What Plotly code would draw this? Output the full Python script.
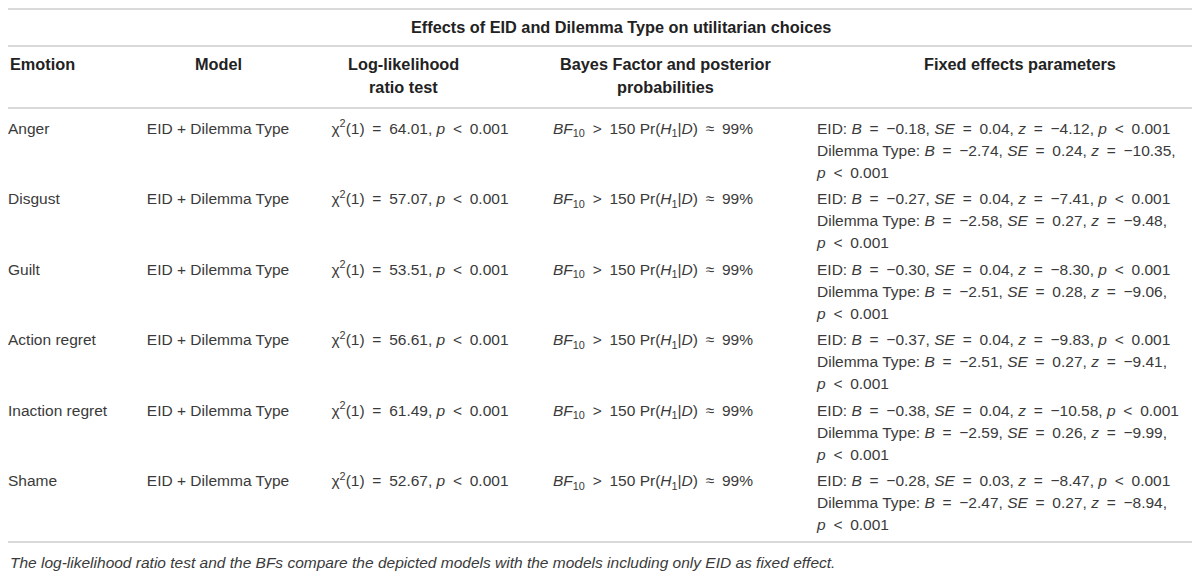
import plotly.graph_objs as go

# table data
emotions = ["Anger", "Disgust", "Guilt", "Action regret", "Inaction regret", "Shame"]
model_name = "EID + Dilemma Type"
chi2_df = 1
chi2_values = [64.01, 57.07, 53.51, 56.61, 61.49, 52.67]
bf_bound = 150
posterior = "99%"
eid_B = [-0.18, -0.27, -0.30, -0.37, -0.38, -0.28]
eid_SE = [0.04, 0.04, 0.04, 0.04, 0.04, 0.03]
eid_z = [-4.12, -7.41, -8.30, -9.83, -10.58, -8.47]
dil_B = [-2.74, -2.58, -2.51, -2.51, -2.59, -2.47]
dil_SE = [0.24, 0.27, 0.28, 0.27, 0.26, 0.27]
dil_z = [-10.35, -9.48, -9.06, -9.41, -9.99, -8.94]
p_bound = "0.001"

headers = ["Emotion", "Model", "Log-likelihood<br>ratio test",
           "Bayes Factor and posterior<br>probabilities", "Fixed effects parameters"]
title = "Effects of EID and Dilemma Type on utilitarian choices"
footnote = ("The log-likelihood ratio test and the BFs compare the depicted models "
            "with the models including only EID as fixed effect.")

SP = "\u2002"  # wider (math) spacing round operators


def num(v):
    return ("%.2f" % v).replace("-", "\u2212")


def op(s):
    return SP + s + SP


FONT = "Liberation Sans"
TXT = "#3a3a3a"
HEAD = "#222222"
SIZE = 15.5
HSIZE = 16.3

# body of the page has an 8px margin, so the axes are shifted by 8 to work in window pixels
W, H = 1192, 572
row0 = 130
row_step = 70.5
line_step = 22
rows = [row0 + row_step * i for i in range(len(emotions))]

p_txt = "<i>p</i>" + op("&lt;") + p_bound
col_chi = ["\u03c7<sup>2</sup>(%d)%s%s, %s" % (chi2_df, op("="), num(c), p_txt) for c in chi2_values]
col_bf = ["<i>BF</i><sub>10</sub>%s%d Pr(<i>H</i><sub>1</sub>|<i>D</i>)%s%s" % (op("&gt;"), bf_bound, op("\u2248"), posterior)
          for _ in emotions]
fe1 = ["EID: <i>B</i>%s%s, <i>SE</i>%s%s, <i>z</i>%s%s, %s" % (op("="), num(b), op("="), num(s), op("="), num(z), p_txt)
       for b, s, z in zip(eid_B, eid_SE, eid_z)]
fe2 = ["Dilemma Type: <i>B</i>%s%s, <i>SE</i>%s%s, <i>z</i>%s%s," % (op("="), num(b), op("="), num(s), op("="), num(z))
       for b, s, z in zip(dil_B, dil_SE, dil_z)]
fe3 = [p_txt for _ in emotions]


def text_col(x, ys, texts, pos):
    return go.Scatter(x=[x] * len(ys), y=ys, text=texts, mode="text",
                      textposition=pos, hoverinfo="skip", showlegend=False,
                      cliponaxis=False,
                      textfont=dict(family=FONT, size=SIZE, color=TXT))


data = [
    text_col(8, rows, emotions, "middle right"),
    text_col(218, rows, [model_name] * len(emotions), "middle center"),
    text_col(420, rows, col_chi, "middle center"),
    text_col(653, rows, col_bf, "middle center"),
    text_col(817, rows, fe1, "middle right"),
    text_col(817, [r + line_step for r in rows], fe2, "middle right"),
    text_col(817, [r + 2 * line_step for r in rows], fe3, "middle right"),
]

layout = go.Layout(
    width=W, height=H,
    margin=dict(l=0, r=0, t=0, b=0),
    paper_bgcolor="white", plot_bgcolor="white",
    xaxis=dict(range=[8, 8 + W], visible=False, fixedrange=True),
    yaxis=dict(range=[8 + H, 8], visible=False, fixedrange=True),
)
fig = go.Figure(data=data, layout=layout)

# horizontal rules
for y in [9, 46, 108, 542]:
    fig.add_shape(type="line", xref="x", yref="y", x0=8, x1=1193, y0=y, y1=y,
                  line=dict(color="#d9d9d9", width=2))

# title, headers, footnote
hfont = dict(family=FONT, size=HSIZE, color=HEAD)
fig.add_annotation(x=621, y=27, xref="x", yref="y", text="<b>%s</b>" % title,
                   showarrow=False, font=hfont, xanchor="center", yanchor="middle")
header_x = [8, 218, 403, 665, 1020]
for i, h in enumerate(headers):
    for k, ln in enumerate(h.split("<br>")):
        fig.add_annotation(x=header_x[i], y=64 + k * 23, xref="x", yref="y",
                           text="<b>%s</b>" % ln, showarrow=False, font=hfont,
                           xanchor="left" if i == 0 else "center", yanchor="middle")
fig.add_annotation(x=8, y=562, xref="x", yref="y", text="<i>%s</i>" % footnote,
                   showarrow=False, font=dict(family=FONT, size=SIZE, color=TXT),
                   xanchor="left", yanchor="middle")

fig.write_html("out.html")
